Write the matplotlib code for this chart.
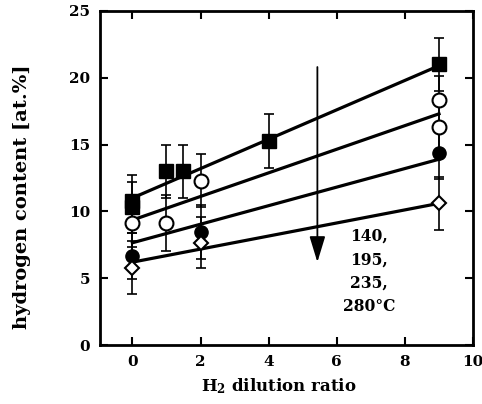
import matplotlib
matplotlib.use("Agg")
import matplotlib.pyplot as plt
import numpy as np

plt.rcParams['font.family'] = ['DejaVu Serif']
plt.rcParams['font.weight'] = 'bold'
plt.rcParams['mathtext.fontset'] = 'dejavuserif'

# 140 C (filled squares)
sq_x = [0, 0, 1, 1.5, 4, 9]
sq_y = [10.3, 10.8, 13.0, 13.0, 15.25, 21.0]
sq_e = [1.9, 1.9, 2.0, 2.0, 2.0, 2.0]
# 195 C (open circles)
oc_x = [0, 1, 2, 9, 9]
oc_y = [9.1, 9.1, 12.3, 16.3, 18.35]
oc_e = [1.8, 2.1, 2.0, 1.8, 1.8]
# 235 C (filled circles)
fc_x = [0, 2, 9]
fc_y = [6.65, 8.45, 14.35]
fc_e = [1.7, 2.0, 1.9]
# 280 C (open diamonds)
di_x = [0, 2, 9]
di_y = [5.8, 7.65, 10.6]
di_e = [2.0, 1.9, 2.0]

# linear fits (value at x=0 and x=9)
fit_x = [0, 9]
fit1 = [11.0, 20.9]
fit2 = [9.35, 17.3]
fit3 = [7.65, 13.9]
fit4 = [6.2, 10.6]

xticks = [0, 2, 4, 6, 8, 10]
yticks = [0, 5, 10, 15, 20, 25]

fig = plt.figure(figsize=(4.82, 4.04), dpi=100)
ax = fig.add_axes([0.2075, 0.146, 0.774, 0.827])

for fy in (fit1, fit2, fit3, fit4):
    ax.plot(fit_x, fy, color='black', lw=2.3, zorder=2)

ekw = dict(fmt='none', ecolor='black', elinewidth=1.2, capsize=3.5, capthick=1.2, zorder=1)
ax.errorbar(sq_x, sq_y, yerr=sq_e, **ekw)
ax.errorbar(oc_x, oc_y, yerr=oc_e, **ekw)
ax.errorbar(fc_x, fc_y, yerr=fc_e, **ekw)
ax.errorbar(di_x, di_y, yerr=di_e, **ekw)

ax.plot(sq_x, sq_y, 's', ms=10, mfc='black', mec='black', zorder=3)
ax.plot(oc_x, oc_y, 'o', ms=10, mfc='white', mec='black', mew=1.5, zorder=3)
ax.plot(fc_x, fc_y, 'o', ms=9.5, mfc='black', mec='black', zorder=3)
ax.plot(di_x, di_y, 'D', ms=7, mfc='white', mec='black', mew=1.5, zorder=3)

ax.annotate('', xy=(5.43, 6.2), xytext=(5.43, 20.8),
            arrowprops=dict(arrowstyle='-|>,head_length=0.72,head_width=0.22',
                            color='black', lw=1.3,
                            mutation_scale=22, shrinkA=0, shrinkB=0))
ax.text(6.95, 8.75, '140,\n195,\n235,\n280°C', ha='center', va='top',
        fontsize=11.2, fontweight='bold', linespacing=1.48)

ax.set_xlim(-0.95, 10)
ax.set_ylim(0, 25)
ax.set_xticks(xticks)
ax.set_yticks(yticks)
ax.tick_params(direction='in', length=6, width=1.5, top=True, right=True,
               labelsize=11, pad=7)
for lab in ax.get_xticklabels() + ax.get_yticklabels():
    lab.set_fontweight('bold')
for s in ax.spines.values():
    s.set_linewidth(2)

ax.set_xlabel('H$_\\mathbf{2}$ dilution ratio', fontsize=12, fontweight='bold')
ax.set_ylabel('hydrogen content [at.%]', fontsize=14, fontweight='bold')
ax.xaxis.set_label_coords(0.48, -0.095)
ax.yaxis.set_label_coords(-0.185, 0.445)

fig.savefig('out.png', dpi=100)
